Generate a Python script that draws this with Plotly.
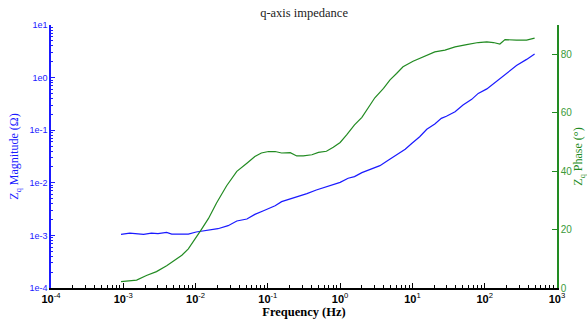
import plotly.graph_objects as go

# Magnitude series
mag_freq = [0.00093, 0.00123, 0.00191, 0.00245, 0.00302, 0.00398, 0.00468, 0.00603, 0.00794, 0.0102,
            0.0129, 0.0158, 0.0204, 0.0282, 0.0372, 0.0513, 0.0661, 0.0871, 0.126, 0.155,
            0.204, 0.251, 0.347, 0.468, 0.646, 1.0, 1.29, 1.58, 2.0, 2.88,
            3.55, 4.68, 6.03, 7.94, 9.77, 12.6, 15.8, 20.4, 25.1, 29.5,
            38.9, 50.1, 66.1, 81.3, 107, 145, 191, 275, 380, 490]
mag_vals = [1.05e-3, 1.10e-3, 1.05e-3, 1.10e-3, 1.08e-3, 1.14e-3, 1.06e-3, 1.06e-3, 1.06e-3, 1.16e-3,
            1.23e-3, 1.30e-3, 1.34e-3, 1.53e-3, 1.88e-3, 2.05e-3, 2.51e-3, 2.95e-3, 3.67e-3, 4.38e-3,
            4.92e-3, 5.53e-3, 6.21e-3, 7.30e-3, 8.5e-3, 1.02e-2, 1.22e-2, 1.31e-2, 1.56e-2, 1.88e-2,
            2.12e-2, 2.71e-2, 3.38e-2, 4.33e-2, 5.6e-2, 7.5e-2, 0.104, 0.131, 0.168, 0.184,
            0.225, 0.301, 0.386, 0.50, 0.61, 0.84, 1.17, 1.69, 2.22, 2.81]

# Phase series
phase_freq = [0.00093, 0.00153, 0.00209, 0.00288, 0.00398, 0.00519, 0.00646, 0.00794, 0.00977, 0.0120,
              0.0151, 0.0195, 0.0269, 0.0372, 0.0513, 0.0661, 0.0813, 0.102, 0.126, 0.155,
              0.204, 0.251, 0.309, 0.407, 0.501, 0.646, 0.804, 1.0, 1.23, 1.58,
              2.0, 2.45, 3.02, 3.98, 4.90, 6.03, 7.41, 10.2, 12.6, 15.8,
              20.4, 28.2, 38.9, 56.2, 81.3, 107, 132, 162, 191, 275, 380, 490]
phase_vals = [2.2, 2.7, 4.3, 5.6, 7.6, 9.6, 11.2, 13.4, 16.6, 20.0,
              23.8, 29.1, 35.0, 39.9, 42.7, 45.0, 46.2, 46.7, 46.7, 46.2,
              46.3, 45.2, 45.2, 45.6, 46.4, 46.8, 48.2, 49.8, 52.4, 55.8,
              58.4, 61.8, 65.1, 68.3, 71.2, 73.4, 75.7, 77.6, 78.5, 79.7,
              80.8, 81.4, 82.5, 83.3, 84.0, 84.2, 84.0, 83.5, 85.0, 84.8, 84.8, 85.5]

x_tickvals = [1e-4, 1e-3, 1e-2, 1e-1, 1e0, 1e1, 1e2, 1e3]
x_ticktext = ["<b>10</b><sup>-4</sup>", "<b>10</b><sup>-3</sup>", "<b>10</b><sup>-2</sup>",
              "<b>10</b><sup>-1</sup>", "<b>10</b><sup>0</sup>", "<b>10</b><sup>1</sup>",
              "<b>10</b><sup>2</sup>", "<b>10</b><sup>3</sup>"]
y_tickvals = [1e-4, 1e-3, 1e-2, 1e-1, 1e0, 1e1]
y_ticktext = ["1e-4", "1e-3", "1e-2", "1e-1", "1e0", "1e1"]
y2_tickvals = [0, 20, 40, 60, 80]

# minor tick positions (2..9 within each decade)
x_minor = [m * 10.0 ** e for e in range(-4, 3) for m in range(2, 10)]
y_minor = [m * 10.0 ** e for e in range(-4, 1) for m in range(2, 10)]

BLUE = "#1a1aff"
GREEN = "#228b22"

fig = go.Figure()
fig.add_trace(go.Scatter(x=mag_freq, y=mag_vals, mode="lines",
                         line=dict(color=BLUE, width=1.2), showlegend=False))
fig.add_trace(go.Scatter(x=phase_freq, y=phase_vals, mode="lines", yaxis="y2",
                         line=dict(color=GREEN, width=1.2), showlegend=False))

fig.update_layout(
    width=587, height=321,
    margin=dict(l=51, r=30, t=25, b=33),
    paper_bgcolor="white", plot_bgcolor="white",
    title=dict(text="q-axis impedance", x=0.518, xanchor="center", y=0.962, yanchor="middle",
               font=dict(family="Liberation Serif", size=12.5, color="#222")),
    xaxis=dict(type="log", range=[-4, 3], tickvals=x_tickvals, ticktext=x_ticktext,
               automargin=False,
               showline=True, linecolor="black", linewidth=1.5, mirror=False,
               ticks="inside", ticklen=5, tickcolor="black", showgrid=False, zeroline=False,
               tickfont=dict(family="Liberation Sans", size=11, color="black"),
               minor=dict(tickvals=x_minor, ticks="inside", ticklen=3, tickcolor="black", showgrid=False),
               title=dict(text="<b>Frequency (Hz)</b>", standoff=3,
                          font=dict(family="Liberation Serif", size=12.5, color="black"))),
    yaxis=dict(type="log", range=[-4, 1], tickvals=y_tickvals, ticktext=y_ticktext,
               automargin=False,
               showline=True, linecolor=BLUE, linewidth=1.5,
               ticks="inside", ticklen=4, tickcolor=BLUE, showgrid=False, zeroline=False,
               tickfont=dict(family="Liberation Sans", size=9, color=BLUE),
               minor=dict(tickvals=y_minor, ticks="inside", ticklen=2, tickcolor=BLUE, showgrid=False),
               title=dict(text="Z<sub>q</sub> Magnitude (Ω)", standoff=8,
                          font=dict(family="Liberation Serif", size=12, color=BLUE))),
    yaxis2=dict(overlaying="y", side="right", range=[0, 90], tickvals=y2_tickvals,
                automargin=False,
                showline=True, linecolor=GREEN, linewidth=1.5,
                ticks="inside", ticklen=5, tickcolor=GREEN, showgrid=False, zeroline=False,
                tickfont=dict(family="Liberation Sans", size=10, color="#3a9a3a"),
                title=dict(text="Z<sub>q</sub> Phase (°)", standoff=6,
                           font=dict(family="Liberation Serif", size=12, color=GREEN))),
)

fig.write_html("out.html", config={"displayModeBar": False},
               post_script="document.body.style.margin='0';document.body.style.overflow='hidden';")
